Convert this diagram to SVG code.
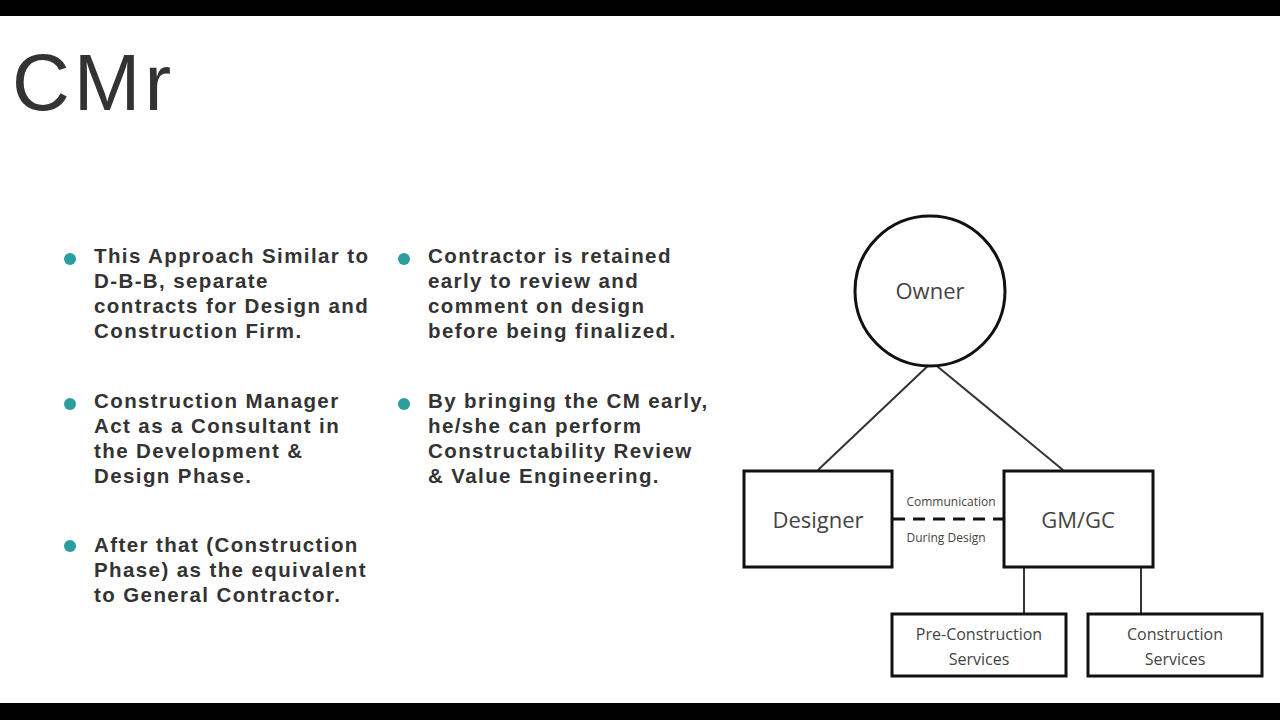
<svg xmlns="http://www.w3.org/2000/svg" width="1280" height="720" viewBox="0 0 1280 720">
<style>
.b{font-family:"Liberation Sans",Arial,sans-serif;font-weight:bold;font-size:20.5px;letter-spacing:1.4px;fill:#333}
.n{fill:#fff;stroke:#111;stroke-width:3}
.t{font-family:"Open Sans","Liberation Sans",sans-serif;fill:#444;text-anchor:middle}
.c{stroke:#333;stroke-width:2;fill:none}
</style>
<rect width="1280" height="720" fill="#fff"/>
<rect width="1280" height="16" fill="#000"/>
<rect y="703" width="1280" height="17" fill="#000"/>
<text x="12" y="110" font-family="Liberation Sans,Arial,sans-serif" font-size="80" letter-spacing="4" fill="#333">CMr</text>
<g fill="#2a9d9d">
<circle cx="70" cy="259" r="6"/><circle cx="70" cy="404" r="6"/><circle cx="70" cy="546" r="6"/>
<circle cx="404" cy="259" r="6"/><circle cx="404" cy="404" r="6"/>
</g>
<text class="b"><tspan x="94" y="263">This Approach Similar to</tspan><tspan x="94" y="288">D-B-B, separate</tspan><tspan x="94" y="313">contracts for Design and</tspan><tspan x="94" y="338">Construction Firm.</tspan></text>
<text class="b"><tspan x="94" y="408">Construction Manager</tspan><tspan x="94" y="433">Act as a Consultant in</tspan><tspan x="94" y="458">the Development &amp;</tspan><tspan x="94" y="483">Design Phase.</tspan></text>
<text class="b"><tspan x="94" y="552">After that (Construction</tspan><tspan x="94" y="577">Phase) as the equivalent</tspan><tspan x="94" y="602">to General Contractor.</tspan></text>
<text class="b"><tspan x="428" y="263">Contractor is retained</tspan><tspan x="428" y="288">early to review and</tspan><tspan x="428" y="313">comment on design</tspan><tspan x="428" y="338">before being finalized.</tspan></text>
<text class="b"><tspan x="428" y="408">By bringing the CM early,</tspan><tspan x="428" y="433">he/she can perform</tspan><tspan x="428" y="458">Constructability  Review</tspan><tspan x="428" y="483">&amp; Value Engineering.</tspan></text>
<g id="connectors">
<line class="c" x1="932" y1="362" x2="818" y2="470"/>
<line class="c" x1="932" y1="362" x2="1063" y2="470"/>
<line x1="893" y1="519" x2="1003" y2="519" stroke="#111" stroke-width="3" stroke-dasharray="12,8"/>
<line class="c" x1="1024" y1="568" x2="1024" y2="614"/>
<line class="c" x1="1141" y1="568" x2="1141" y2="614"/>
<text class="t" x="951" y="506" font-size="12">Communication</text>
<text class="t" x="946" y="542" font-size="12">During Design</text>
</g>
<g id="owner"><circle class="n" cx="930" cy="291" r="75"/><text class="t" x="930" y="299" font-size="22">Owner</text></g>
<g id="designer"><rect class="n" x="744" y="471" width="148" height="96"/><text class="t" x="818" y="528" font-size="22">Designer</text></g>
<g id="gmgc"><rect class="n" x="1004" y="471" width="149" height="96"/><text class="t" x="1078" y="528" font-size="22">GM/GC</text></g>
<g id="precon"><rect class="n" x="892" y="614" width="174" height="62"/><text class="t" font-size="16"><tspan x="979" y="640">Pre-Construction</tspan><tspan x="979" y="665">Services</tspan></text></g>
<g id="con"><rect class="n" x="1088" y="614" width="174" height="62"/><text class="t" font-size="16"><tspan x="1175" y="640">Construction</tspan><tspan x="1175" y="665">Services</tspan></text></g>
</svg>
